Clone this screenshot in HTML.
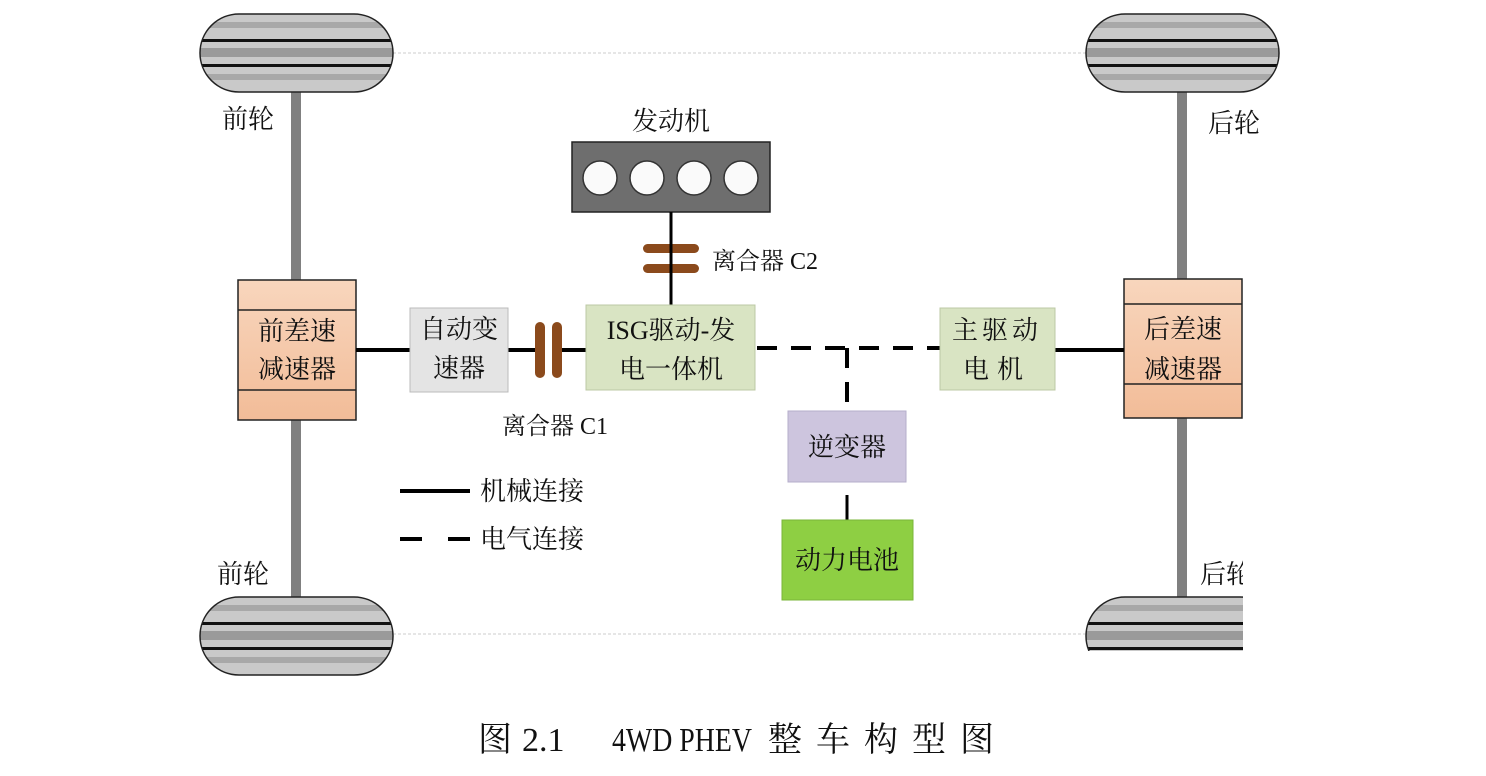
<!DOCTYPE html>
<html><head><meta charset="utf-8"><style>
body{margin:0;background:#fff}
svg text{font-family:"Liberation Serif","Noto Serif CJK SC","Noto Sans CJK SC",serif;fill:#111}
</style></head><body>
<svg width="1486" height="771" viewBox="0 0 1486 771" xmlns="http://www.w3.org/2000/svg">
<defs>
<g id="wheel">
  <clipPath id="wc"><rect x="0" y="0" width="193" height="78" rx="39"/></clipPath>
  <g clip-path="url(#wc)">
    <rect x="0" y="0" width="193" height="78" fill="#c9c9c9"/>
    <rect x="0" y="8" width="193" height="6" fill="#a8a8a8"/>
    <rect x="0" y="25" width="193" height="3" fill="#111"/>
    <rect x="0" y="34" width="193" height="9" fill="#9a9a9a"/>
    <rect x="0" y="50" width="193" height="3" fill="#111"/>
    <rect x="0" y="60" width="193" height="6" fill="#a8a8a8"/>
  </g>
  <rect x="0" y="0" width="193" height="78" rx="39" fill="none" stroke="#222" stroke-width="1.5"/>
</g>
<linearGradient id="dg" x1="0" y1="0" x2="0" y2="1"><stop offset="0" stop-color="#f8d6bd"/><stop offset="1" stop-color="#f2bc98"/></linearGradient>
</defs>
<line x1="393" y1="53" x2="1087" y2="53" stroke="#ccc" stroke-dasharray="3,2"/>
<line x1="393" y1="634" x2="1087" y2="634" stroke="#ccc" stroke-dasharray="3,2"/>
<g stroke="#808080" stroke-width="10" stroke-linecap="round">
<line x1="296" y1="92" x2="296" y2="280"/><line x1="296" y1="420" x2="296" y2="597"/>
<line x1="1182" y1="92" x2="1182" y2="279"/><line x1="1182" y1="418" x2="1182" y2="597"/>
</g>
<use href="#wheel" x="200" y="14"/>
<use href="#wheel" x="200" y="597"/>
<use href="#wheel" x="1086" y="14"/>
<use href="#wheel" x="1086" y="597"/>
<rect x="238" y="280" width="118" height="140" fill="url(#dg)" stroke="#222" stroke-width="1.5"/>
<line x1="238" y1="310" x2="356" y2="310" stroke="#222" stroke-width="1.5"/>
<line x1="238" y1="390" x2="356" y2="390" stroke="#222" stroke-width="1.5"/>
<text x="297" y="340" font-size="26" text-anchor="middle">前差速</text>
<text x="297" y="378" font-size="26" text-anchor="middle">减速器</text>
<rect x="1124" y="279" width="118" height="139" fill="url(#dg)" stroke="#222" stroke-width="1.5"/>
<line x1="1124" y1="304" x2="1242" y2="304" stroke="#222" stroke-width="1.5"/>
<line x1="1124" y1="384" x2="1242" y2="384" stroke="#222" stroke-width="1.5"/>
<text x="1183" y="338" font-size="26" text-anchor="middle">后差速</text>
<text x="1183" y="378" font-size="26" text-anchor="middle">减速器</text>
<g stroke="#000" stroke-width="4">
<line x1="356" y1="350" x2="410" y2="350"/><line x1="508" y1="350" x2="540" y2="350"/><line x1="557" y1="350" x2="586" y2="350"/>
<line x1="1055" y1="350" x2="1124" y2="350"/>
</g>
<g stroke="#000" stroke-width="3">
<line x1="847" y1="495" x2="847" y2="520"/>
</g>
<g stroke="#000" stroke-width="4" stroke-dasharray="20,14">
<line x1="757" y1="348" x2="940" y2="348"/>
<line x1="847" y1="348" x2="847" y2="410"/>
</g>
<rect x="410" y="308" width="98" height="84" fill="#e4e4e4" stroke="#bbb"/>
<text x="459" y="338" font-size="26" text-anchor="middle">自动变</text>
<text x="459" y="377" font-size="26" text-anchor="middle">速器</text>
<rect x="535" y="322" width="10" height="56" rx="5" fill="#8b4a1c"/>
<rect x="552" y="322" width="10" height="56" rx="5" fill="#8b4a1c"/>
<text x="502" y="434" font-size="24">离合器 C1</text>
<rect x="572" y="142" width="198" height="70" fill="#6e6e6e" stroke="#222" stroke-width="1.5"/>
<g fill="#fafafa" stroke="#333" stroke-width="1.5">
<circle cx="600" cy="178" r="17"/><circle cx="647" cy="178" r="17"/><circle cx="694" cy="178" r="17"/><circle cx="741" cy="178" r="17"/>
</g>
<text x="671" y="130" font-size="26" text-anchor="middle">发动机</text>
<rect x="643" y="244" width="56" height="9" rx="4.5" fill="#8b4a1c"/>
<rect x="643" y="264" width="56" height="9" rx="4.5" fill="#8b4a1c"/>
<line x1="671" y1="212" x2="671" y2="305" stroke="#000" stroke-width="3"/>
<text x="712" y="269" font-size="24">离合器 C2</text>
<rect x="586" y="305" width="169" height="85" fill="#d9e4c3" stroke="#bcc8a4"/>
<text x="671" y="339" font-size="26" text-anchor="middle">ISG驱动-发</text>
<text x="671" y="378" font-size="26" text-anchor="middle">电一体机</text>
<rect x="940" y="308" width="115" height="82" fill="#d9e4c3" stroke="#bcc8a4"/>
<text x="997" y="339" font-size="26" text-anchor="middle" letter-spacing="4">主驱动</text>
<text x="997" y="378" font-size="26" text-anchor="middle" letter-spacing="8">电机</text>
<rect x="788" y="411" width="118" height="71" fill="#cdc5de" stroke="#b5aecb"/>
<text x="847" y="456" font-size="26" text-anchor="middle">逆变器</text>
<rect x="782" y="520" width="131" height="80" fill="#8ecf43" stroke="#7ab638"/>
<text x="847" y="569" font-size="26" text-anchor="middle">动力电池</text>
<line x1="400" y1="491" x2="470" y2="491" stroke="#000" stroke-width="4"/>
<line x1="400" y1="539" x2="470" y2="539" stroke="#000" stroke-width="4" stroke-dasharray="22,26"/>
<text x="480" y="500" font-size="26">机械连接</text>
<text x="480" y="548" font-size="26">电气连接</text>
<text x="222" y="128" font-size="26">前轮</text>
<text x="217" y="583" font-size="26">前轮</text>
<text x="1208" y="132" font-size="26">后轮</text>
<text x="1200" y="583" font-size="26">后轮</text>
<g font-size="34">
<text x="478" y="751">图</text>
<text x="522" y="751">2.1</text>
<text x="612" y="751" textLength="140" lengthAdjust="spacingAndGlyphs">4WD PHEV</text>
<text x="768" y="751" letter-spacing="14">整车构型图</text>
</g>
<rect x="994" y="700" width="300" height="71" fill="#fff"/>
<rect x="1243" y="260" width="243" height="511" fill="#fff"/>
<rect x="1080" y="651" width="200" height="48" fill="#fff"/>
</svg>
</body></html>
